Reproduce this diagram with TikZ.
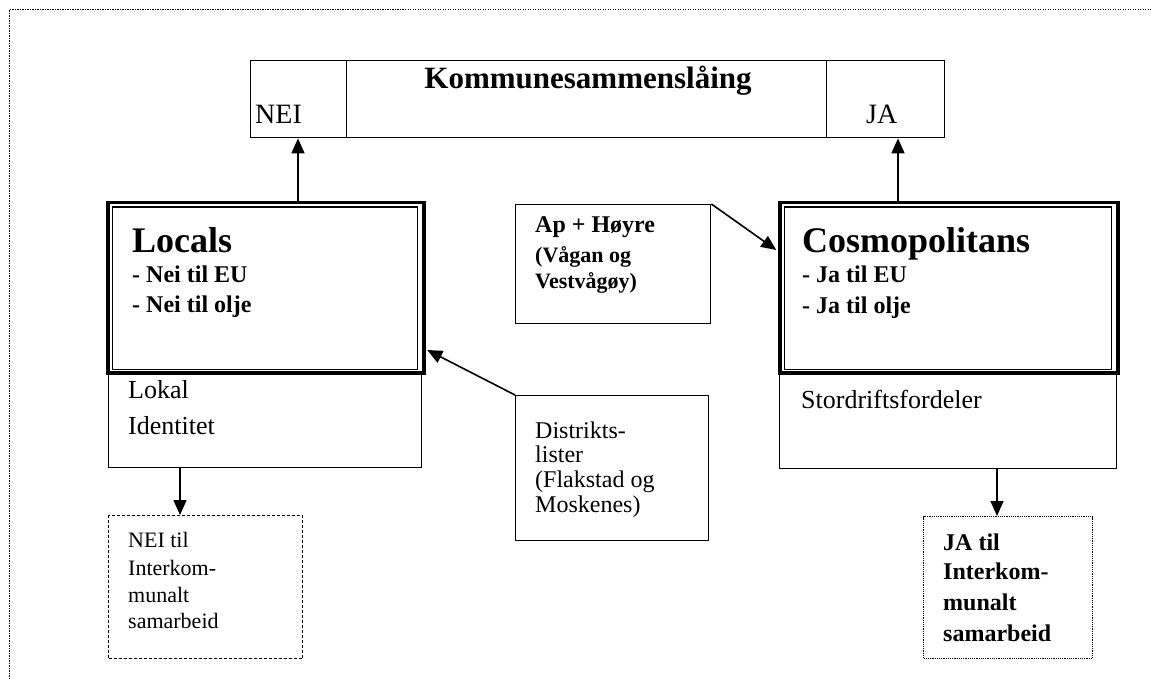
\documentclass[tikz,border=0pt]{standalone}
\usepackage{fontspec}
\setmainfont{Liberation Serif}
\usetikzlibrary{arrows.meta}
\begin{document}
\begin{tikzpicture}[x=1pt,y=-1pt,
  rbox/.style n args={2}{draw=black, line width=1.4pt, anchor=north west, inner sep=0pt, minimum width=#1, minimum height=#2},
  thickbox/.style n args={2}{rbox={#1}{#2}, line width=3.5pt},
  dbox/.style n args={2}{rbox={#1}{#2}, line width=1pt, dash pattern=on 3pt off 2pt},
  obox/.style n args={2}{rbox={#1}{#2}, line width=1.1pt, dash pattern=on 1.2pt off 1pt},
  arr/.style={line width=1.6pt, -{Triangle[length=15pt,width=13pt]}},
  frame/.style={line width=1pt, dash pattern=on 1.2pt off 1.3pt},
  t/.style={anchor=base west, inner sep=0pt},
  big/.style={font=\fontsize{36}{40}\selectfont\bfseries},
  sub/.style={font=\fontsize{24}{28}\selectfont\bfseries},
  reg/.style={font=\fontsize{22}{26}\selectfont},
  mid/.style={font=\fontsize{26}{30}\selectfont},
  bld/.style={font=\fontsize{24}{28}\selectfont\bfseries}]
\useasboundingbox (0,0) rectangle (1151,679);
\fill[white] (0,0) rectangle (1151,679);

% outer frame
\coordinate (f0) at (9,10);
\coordinate (f1) at (9,679);
\coordinate (f2) at (1151,10);
\draw[frame] (f1) -- (f0) -- (f2);

% top box
\node[rbox={96}{77}] (nei) at (250,60) {};
\node[rbox={480}{77}] (midbox) at (346,60) {};
\node[rbox={118}{77}] (ja) at (826,60) {};
\node[anchor=base, inner sep=0pt, font=\fontsize{31}{34}\selectfont\bfseries] (ktitle) at (588,89) {Kommunesammensl\r{a}ing};
\node[t, font=\fontsize{28}{30}\selectfont] (neit) at (255,124) {NEI};
\node[t, font=\fontsize{28}{30}\selectfont] (jat) at (866,124) {JA};

% Locals
\node[thickbox={316}{170}] (locals) at (106,201) {};
\node[rbox={305}{162}] (localsin) at (111.5,206.5) {};
\node[t, big] (lc1) at (132,252) {Locals};
\node[t, sub] (lc2) at (132,282) {- Nei til EU};
\node[t, sub] (lc3) at (132,312) {- Nei til olje};
\node[rbox={313}{94}] (lokal) at (108,373) {};
\node[t, mid] (lk1) at (128,398) {Lokal};
\node[t, mid] (lk2) at (128,434) {Identitet};

% Cosmopolitans
\node[thickbox={338}{170}] (cosmo) at (778,201) {};
\node[rbox={327}{162}] (cosmoin) at (783.5,206.5) {};
\node[t, big] (cm1) at (802,252) {Cosmopolitans};
\node[t, sub] (cm2) at (802,282) {- Ja til EU};
\node[t, sub] (cm3) at (802,313) {- Ja til olje};
\node[rbox={337}{95}] (stor) at (779,373) {};
\node[t, mid] (st1) at (801,408) {Stordriftsfordeler};

% Ap + Hoyre
\node[rbox={195}{119}] (ap) at (515,204) {};
\node[t, font=\fontsize{24}{28}\selectfont\bfseries] (ap1) at (535,233) {Ap + H\o yre};
\node[t, font=\fontsize{22}{25}\selectfont\bfseries] (ap2) at (535,262) {(V\r{a}gan og};
\node[t, font=\fontsize{22}{25}\selectfont\bfseries] (ap3) at (535,288) {Vestv\r{a}g\o y)};

% Distriktslister
\node[rbox={193}{145}] (dist) at (515,395) {};
\node[t, font=\fontsize{24}{28}\selectfont] (ds1) at (535,438) {Distrikts-};
\node[t, font=\fontsize{24}{28}\selectfont] (ds2) at (535,462) {lister};
\node[t, font=\fontsize{24}{28}\selectfont] (ds3) at (535,487) {(Flakstad og};
\node[t, font=\fontsize{24}{28}\selectfont] (ds4) at (535,512) {Moskenes)};

% NEI til
\node[dbox={194}{143}] (neitil) at (108,515) {};
\node[t, reg] (n1) at (128,547) {NEI til};
\node[t, reg] (n2) at (128,575) {Interkom-};
\node[t, reg] (n3) at (128,602) {munalt};
\node[t, reg] (n4) at (128,628) {samarbeid};

% JA til
\node[obox={169}{142}] (jatil) at (923,516) {};
\node[t, bld] (j1) at (943,550) {JA til};
\node[t, bld] (j2) at (943,579) {Interkom-};
\node[t, bld] (j3) at (943,610) {munalt};
\node[t, bld] (j4) at (943,641) {samarbeid};

% connectors
\coordinate (xa) at (298,0);
\coordinate (xb) at (898,0);
\coordinate (xc) at (180,0);
\coordinate (xd) at (997,0);
\coordinate (ya) at (0,250);
\coordinate (yb) at (0,350);
\draw[arr] (locals.north -| xa) -- (nei.south -| xa);
\draw[arr] (cosmo.north -| xb) -- (ja.south -| xb);
\draw[arr] (lokal.south -| xc) -- (neitil.north -| xc);
\draw[arr] (stor.south -| xd) -- (jatil.north -| xd);
\draw[arr] (ap.north east) -- ([xshift=-1.75pt]cosmo.west |- ya);
\draw[arr] (dist.north west) -- ([xshift=1.75pt]locals.east |- yb);
\end{tikzpicture}
\end{document}
